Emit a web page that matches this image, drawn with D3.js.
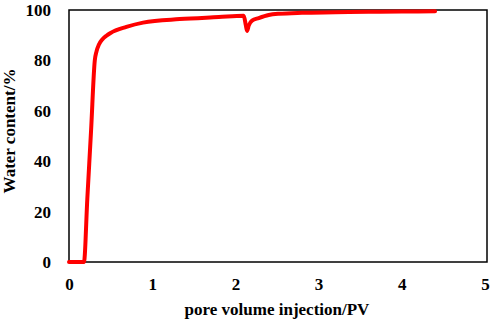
<!DOCTYPE html>
<html lang="en">
<head>
  <meta charset="UTF-8">
  <title>Water content - D3</title>
  <script src="https://d3js.org/d3.v7.min.js"></script>
  <style>
    body {
      margin: 0;
      background-color: #fff;
    }

    text {
      font-family: "Liberation Serif", "Times New Roman", serif;
      font-weight: bold;
      fill: #000;
    }

    .axis text {
      font-size: 17px;
    }

    .title {
      font-size: 17px;
      text-anchor: middle;
    }
  </style>
</head>
<body>
  <script>
    // pore volume injected (PV) and water content (%)
    var pv = [0, 0.18, 0.22, 0.265, 0.31, 0.33, 0.36, 0.40, 0.45, 0.5, 0.69, 0.89, 1.33, 1.8, 2.1,
              2.125, 2.14, 2.16, 2.2, 2.28, 2.4, 2.52, 2.8, 3.2, 3.6, 4.0, 4.4];
    var water = [0, 0, 25, 52, 80, 83.5, 86.3, 88.3, 89.8, 90.9, 93.3, 95, 96.4, 97.2, 97.7,
                 94, 91.7, 93.8, 95.8, 96.8, 98, 98.5, 98.9, 99.1, 99.3, 99.4, 99.5];
    var xTicks = [0, 1, 2, 3, 4, 5];
    var yTicks = [0, 20, 40, 60, 80, 100];

    var margin = { top: 10, right: 4, bottom: 62, left: 69 },
        width = 491 - margin.left - margin.right,
        height = 324 - margin.top - margin.bottom;

    var data = pv.map((d, i) => ({ x: d, y: water[i] }));

    var x = d3.scaleLinear().domain([0, 5]).range([0, width - 2]);
    var y = d3.scaleLinear().domain([0, 100]).range([height, 0]);

    var svg = d3.select("body")
                .append("svg")
                .attr("width", 491)
                .attr("height", 324)
                .append("g")
                .attr("transform", `translate(${margin.left},${margin.top})`);

    // frame
    svg.append("rect")
       .attr("width", width)
       .attr("height", height)
       .attr("fill", "none")
       .attr("stroke", "#000")
       .attr("stroke-width", 1.5);

    // X axis
    svg.append("g")
       .attr("class", "axis")
       .attr("transform", "translate(0," + height + ")")
       .call(d3.axisBottom(x).tickValues(xTicks).tickFormat(d3.format("d")).tickSize(0).tickPadding(16))
       .select(".domain").remove();

    // Y axis
    svg.append("g")
       .attr("class", "axis")
       .call(d3.axisLeft(y).tickValues(yTicks).tickFormat(d3.format("d")).tickSize(0).tickPadding(18))
       .select(".domain").remove();

    // curve
    svg.append("path")
       .datum(data)
       .attr("fill", "none")
       .attr("stroke", "#ff0000")
       .attr("stroke-width", 4)
       .attr("stroke-linejoin", "round")
       .attr("stroke-linecap", "round")
       .attr("d", d3.line()
         .x(d => x(d.x))
         .y(d => y(d.y))
         .curve(d3.curveMonotoneX));

    // axis titles
    svg.append("text")
       .attr("class", "title")
       .attr("x", x(2.5))
       .attr("y", height + 53)
       .text("pore volume injection/PV");

    svg.append("text")
       .attr("class", "title")
       .attr("transform", `translate(${15 - margin.left},${131 - margin.top}) rotate(-90)`)
       .text("Water content/%");
  </script>
</body>
</html>
